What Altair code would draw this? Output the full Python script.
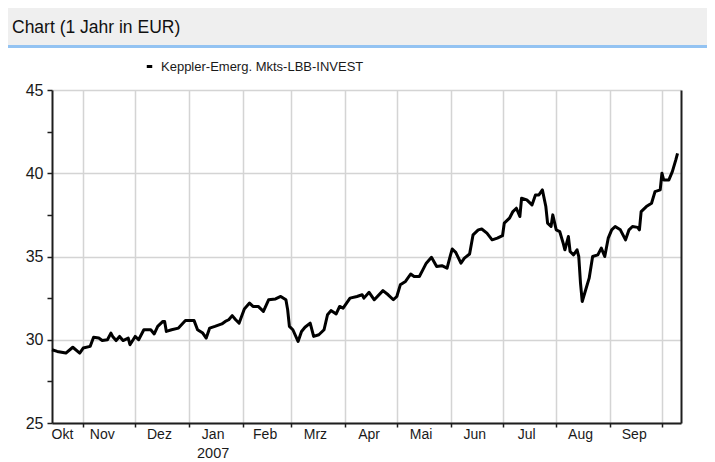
import altair as alt
import pandas as pd

# ---------------- data ----------------
title_text = "Chart (1 Jahr in EUR)"
series_name = "Keppler-Emerg. Mkts-LBB-INVEST"

start_date = "2006-10-14"   # left edge of the time axis
end_date = "2007-10-12"     # right edge of the time axis

# days since start_date
days = [0, 3, 8, 12, 16, 18, 22, 24, 27, 29,
        32, 34, 35, 37, 39, 41, 44, 45, 48, 50,
        53, 56, 57, 59, 61, 64, 65, 66, 69, 73,
        77, 82, 84, 87, 89, 91, 94, 98, 100, 102,
        104, 106, 108, 111, 114, 116, 119, 122, 125, 129,
        132, 135, 136, 137, 139, 142, 144, 146, 149, 151,
        154, 157, 159, 161, 164, 166, 168, 172, 176, 179,
        180, 183, 186, 191, 194, 197, 199, 201, 204, 207,
        209, 212, 214, 216, 219, 222, 225, 228, 230, 231,
        233, 236, 238, 241, 243, 246, 248, 251, 254, 257,
        260, 261, 264, 266, 268, 270, 271, 274, 277, 279,
        281, 283, 285, 286, 288, 289, 291, 293, 295, 296,
        298, 299, 301, 303, 304, 305, 306, 308, 310, 312,
        315, 317, 319, 321, 323, 325, 328, 331, 333, 335,
        338, 339, 340, 343, 346, 348, 351, 352, 353, 356,
        358, 360, 361]

prices = [29.4, 29.3, 29.2, 29.55, 29.2, 29.5, 29.6, 30.15, 30.1, 29.95,
          30.0, 30.4, 30.2, 29.95, 30.2, 29.95, 30.1, 29.7, 30.2, 30.0,
          30.6, 30.6, 30.6, 30.35, 30.8, 31.1, 31.1, 30.5, 30.6, 30.7,
          31.15, 31.15, 30.6, 30.4, 30.1, 30.7, 30.8, 30.95, 31.1, 31.2,
          31.45, 31.2, 31.0, 31.85, 32.2, 32.0, 32.0, 31.7, 32.4, 32.45,
          32.6, 32.4, 31.8, 30.8, 30.6, 29.9, 30.5, 30.75, 31.0, 30.2,
          30.3, 30.6, 31.5, 31.75, 31.55, 32.0, 31.9, 32.5, 32.6, 32.7,
          32.5, 32.85, 32.4, 32.95, 32.7, 32.4, 32.6, 33.3, 33.5, 33.95,
          33.8, 33.8, 34.2, 34.6, 34.95, 34.4, 34.45, 34.3, 35.1, 35.45,
          35.25, 34.6, 34.9, 35.15, 36.3, 36.6, 36.65, 36.4, 36.0, 36.1,
          36.25, 37.0, 37.3, 37.7, 37.9, 37.4, 38.5, 38.4, 38.1, 38.7,
          38.7, 39.0, 38.0, 37.0, 36.8, 37.5, 36.6, 36.5, 35.8, 35.4,
          36.2, 35.3, 35.1, 35.4, 35.0, 33.4, 32.3, 33.0, 33.7, 35.0,
          35.1, 35.5, 35.0, 36.1, 36.6, 36.8, 36.6, 36.0, 36.6, 36.8,
          36.75, 36.6, 37.7, 38.0, 38.2, 38.9, 39.0, 40.0, 39.6, 39.6,
          40.1, 40.8, 41.2]
assert len(days) == len(prices)

month_ticks = ["2006-11-01", "2006-12-01", "2007-01-01", "2007-02-01",
               "2007-03-01", "2007-04-01", "2007-05-01", "2007-06-01",
               "2007-07-01", "2007-08-01", "2007-09-01", "2007-10-01"]
month_names = ["Okt", "Nov", "Dez", "Jan", "Feb", "Mrz", "Apr", "Mai",
               "Jun", "Jul", "Aug", "Sep"]
month_label_dates = ["2006-10-20", "2006-11-12", "2006-12-15", "2007-01-15",
                     "2007-02-14", "2007-03-15", "2007-04-15", "2007-05-15",
                     "2007-06-15", "2007-07-15", "2007-08-15", "2007-09-15"]
year_label = ["2007"]
year_label_date = ["2007-01-15"]

y_ticks = [25, 27.5, 30, 32.5, 35, 37.5, 40, 42.5, 45]
y_domain = [25, 45]

# ---------------- chart ----------------
W, H = 629, 333
FONT = "Liberation Sans"
DARK = "#1e1e1e"
GRID = "#d4d4d4"
TXT = "#1a1a1a"


def dt(s):
    t = pd.Timestamp(s)
    return alt.DateTime(year=t.year, month=t.month, date=t.day)


df = pd.DataFrame({
    "date": pd.Timestamp(start_date) + pd.to_timedelta(days, unit="D"),
    "price": prices,
    "series": series_name,
})
labels_df = pd.DataFrame({"date": pd.to_datetime(month_label_dates), "name": month_names})
year_df = pd.DataFrame({"date": pd.to_datetime(year_label_date), "name": year_label})
one = pd.DataFrame({"k": [0]})

x_scale = alt.Scale(domain=[dt(start_date), dt(end_date)])
x_enc = alt.X(
    "date:T", scale=x_scale, title=None,
    axis=alt.Axis(values=[dt(m) for m in month_ticks], labels=False, grid=True,
                  gridColor=GRID, gridWidth=1.5, domainColor=DARK, domainWidth=2,
                  tickColor=DARK, tickWidth=1.5, tickSize=4),
)
y_scale = alt.Scale(domain=y_domain, nice=False, zero=False)

line = alt.Chart(df).mark_line(strokeWidth=3, strokeJoin="round").encode(
    x=x_enc,
    y=alt.Y("price:Q", scale=y_scale, title=None,
            axis=alt.Axis(values=y_ticks, grid=True, gridColor=GRID, gridWidth=1.5,
                          gridOpacity={"condition": {"test": "datum.value % 5 == 0", "value": 1}, "value": 0},
                          labelExpr="datum.value % 5 == 0 ? datum.label : ''",
                          domainColor=DARK, domainWidth=2, tickColor=DARK, tickWidth=1.5,
                          tickSize=5, labelFont=FONT, labelFontSize=16, labelColor=TXT,
                          labelPadding=4)),
    color=alt.Color("series:N", scale=alt.Scale(range=["#000000"]),
                    legend=alt.Legend(orient="none", legendX=91, legendY=-30, title=None,
                                      symbolType="stroke", symbolStrokeWidth=3, symbolSize=30,
                                      labelFont=FONT, labelFontSize=13, labelColor=TXT,
                                      labelOffset=5, labelLimit=0)),
)

right_axis = alt.Chart(df).mark_line(opacity=0).encode(
    x=x_enc,
    y=alt.Y("price:Q", scale=y_scale, title=None,
            axis=alt.Axis(orient="right", labels=False, ticks=False, grid=False,
                          domainColor=DARK, domainWidth=2)),
)

month_text = alt.Chart(labels_df).mark_text(font=FONT, fontSize=14, color=TXT,
                                            baseline="middle").encode(
    x=x_enc, y=alt.value(H + 12), text="name:N")
year_text = alt.Chart(year_df).mark_text(font=FONT, fontSize=14.5, color=TXT,
                                         baseline="middle").encode(
    x=x_enc, y=alt.value(H + 31), text="name:N")

band = alt.Chart(one).mark_rect(color="#efefef").encode(
    x=alt.value(-44), x2=alt.value(W + 26), y=alt.value(-82), y2=alt.value(-45))
blue = alt.Chart(one).mark_rect(color="#93c3f2").encode(
    x=alt.value(-44), x2=alt.value(W + 26), y=alt.value(-45), y2=alt.value(-42))
title = alt.Chart(one).mark_text(font=FONT, fontSize=17.5, color="#111", align="left",
                                 baseline="middle").encode(
    x=alt.value(-40), y=alt.value(-62), text=alt.value(title_text))

chart = alt.layer(band, blue, title, line, right_axis, month_text, year_text).resolve_axis(
    y="independent"
).properties(
    width=W, height=H,
    padding={"left": 44, "top": 82, "right": 26, "bottom": 38},
    autosize=alt.AutoSizeParams(type="none"),
).configure_view(stroke=None)

chart.save("out.html", embed_options={"renderer": "svg", "actions": False})
